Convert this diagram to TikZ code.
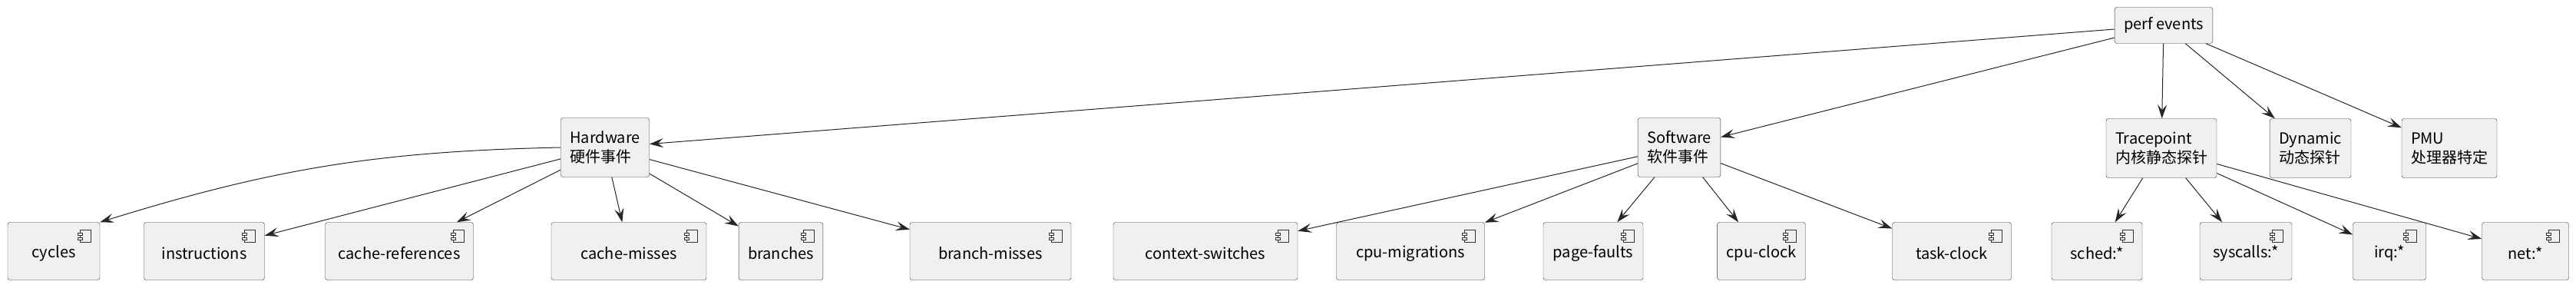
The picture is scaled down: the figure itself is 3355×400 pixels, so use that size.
\documentclass[tikz,border=0pt]{standalone}
\usepackage{fontspec}
\setmainfont{Noto Sans CJK SC}
\usetikzlibrary{arrows.meta}
\tikzset{
    evbox/.style = {draw=black!80, fill=black!6, rounded corners=3pt, align=left, inner sep=12pt, minimum height=77pt, font=\fontsize{20}{25}\selectfont},
    topbox/.style = {evbox, minimum height=47pt},
    leafbox/.style = {evbox, minimum height=75pt, align=center},
    edge/.style = {-{Stealth[length=18pt,width=12pt,inset=7pt]}, black!85, line width=1pt},
}
\newcommand{\compicon}[1]{%
  \draw[black!80, fill=black!6, line width=0.6pt] ([xshift=-26pt,yshift=-10pt]#1.north east) rectangle ([xshift=-12pt,yshift=-26pt]#1.north east);
  \draw[black!80, fill=black!6, line width=0.6pt] ([xshift=-29pt,yshift=-14pt]#1.north east) rectangle ([xshift=-23pt,yshift=-17pt]#1.north east);
  \draw[black!80, fill=black!6, line width=0.6pt] ([xshift=-29pt,yshift=-20pt]#1.north east) rectangle ([xshift=-23pt,yshift=-23pt]#1.north east);
}
\newcommand{\leaftext}[1]{\raisebox{-22pt}{#1}}
\begin{document}
\begin{tikzpicture}[x=1pt,y=1pt]
\useasboundingbox (0,0) rectangle (3355,-400);
% categories
\node[topbox] (perf) at (2818,-33) {perf events};
\node[evbox] (hw) at (788,-192) {Hardware\\硬件事件};
\node[evbox] (sw) at (2187,-192) {Software\\软件事件};
\node[evbox] (tp) at (2815,-193) {Tracepoint\\内核静态探针};
\node[evbox] (dyn) at (3009,-193) {Dynamic\\动态探针};
\node[evbox] (pmu) at (3190,-193) {PMU\\处理器特定};
% leaves
\node[leafbox, minimum width=120pt] (cycles) at (70,-327) {\leaftext{cycles}};
\node[leafbox, minimum width=157pt] (instr) at (266,-327) {\leaftext{instructions}};
\node[leafbox, minimum width=193pt] (cref) at (520,-327) {\leaftext{cache-references}};
\node[leafbox, minimum width=202pt] (cmiss) at (819,-327) {\leaftext{cache-misses}};
\node[leafbox, minimum width=100pt] (br) at (1017,-327) {\leaftext{branches}};
\node[leafbox, minimum width=210pt] (brmiss) at (1290,-327) {\leaftext{branch-misses}};
\node[leafbox, minimum width=240pt] (ctx) at (1570,-327) {\leaftext{context-switches}};
\node[leafbox, minimum width=193pt] (mig) at (1837,-327) {\leaftext{cpu-migrations}};
\node[leafbox, minimum width=130pt] (pf) at (2075,-327) {\leaftext{page-faults}};
\node[leafbox, minimum width=102pt] (cpuclk) at (2294,-327) {\leaftext{cpu-clock}};
\node[leafbox, minimum width=155pt] (taskclk) at (2542,-327) {\leaftext{task-clock}};
\node[leafbox, minimum width=118pt] (sched) at (2731,-327) {\leaftext{sched:*}};
\node[leafbox, minimum width=120pt] (sys) at (2925,-327) {\leaftext{syscalls:*}};
\node[leafbox, minimum width=95pt] (irq) at (3112,-327) {\leaftext{irq:*}};
\node[leafbox, minimum width=113pt] (net) at (3289,-327) {\leaftext{net:*}};
\foreach \n in {cycles,instr,cref,cmiss,br,brmiss,ctx,mig,pf,cpuclk,taskclk,sched,sys,irq,net}
  {\compicon{\n}}
% connectors
\foreach \n in {hw,sw,tp,dyn,pmu}
  {\draw[edge] (perf) -- (\n);}
\draw[edge] (hw.west) to[bend right=8] (cycles.north east);
\foreach \n in {instr,cref,cmiss,br,brmiss}
  {\draw[edge] (hw) -- (\n);}
\foreach \n in {ctx,mig,pf,cpuclk,taskclk}
  {\draw[edge] (sw) -- (\n);}
\foreach \n in {sched,sys,irq,net}
  {\draw[edge] (tp) -- (\n);}
\end{tikzpicture}
\end{document}
